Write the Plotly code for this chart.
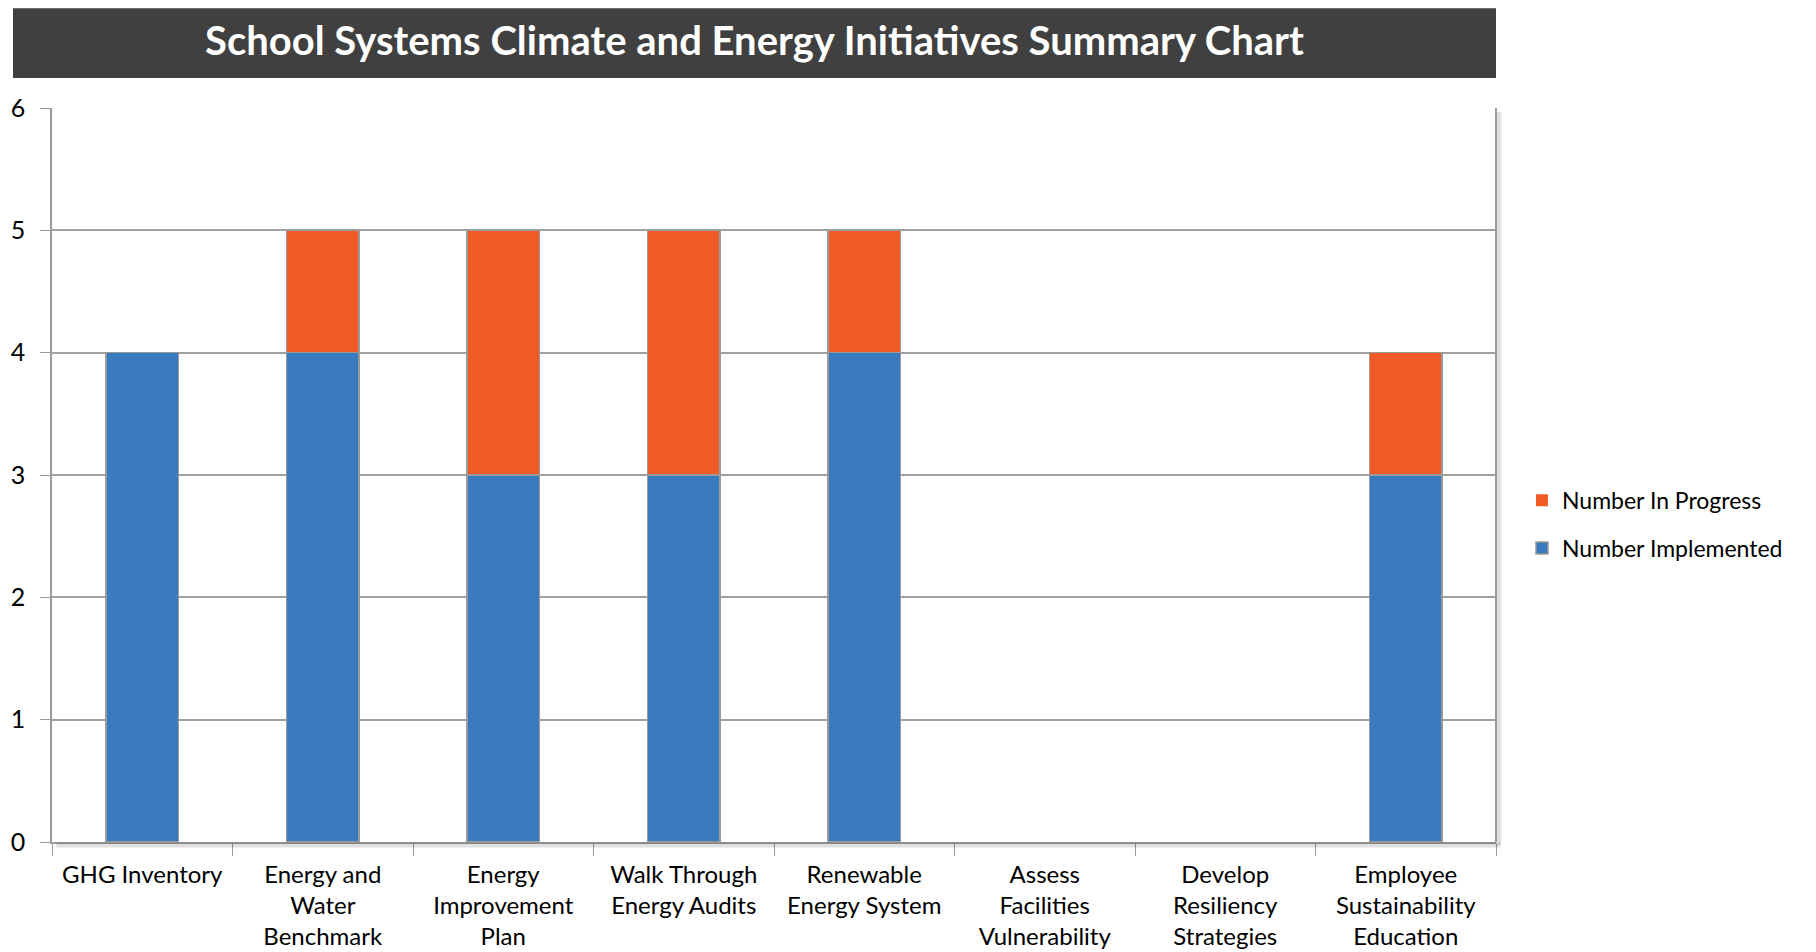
import plotly.graph_objects as go

categories = ["GHG Inventory", "Energy and<br>Water<br>Benchmark", "Energy<br>Improvement<br>Plan",
              "Walk Through<br>Energy Audits", "Renewable<br>Energy System", "Assess<br>Facilities<br>Vulnerability",
              "Develop<br>Resiliency<br>Strategies", "Employee<br>Sustainability<br>Education"]
implemented = [4, 4, 3, 3, 4, 0, 0, 3]
in_progress = [0, 1, 2, 2, 1, 0, 0, 1]
title_text = "School Systems Climate and Energy Initiatives Summary Chart"

FONT = "Lato"
EDGE = "#9a9a9a"
fig = go.Figure()
fig.add_trace(go.Bar(x=categories, y=implemented, name="Number Implemented", legendgroup="a", legendrank=2,
                     marker=dict(color="#3A7ABF",
                                 line=dict(color=EDGE, width=[1.5 if v else 0 for v in implemented]))))
fig.add_trace(go.Bar(x=categories, y=in_progress, name="Number In Progress", legendgroup="b", legendrank=1,
                     marker=dict(color="#F15B26",
                                 line=dict(color=EDGE, width=[1.5 if v else 0 for v in in_progress]))))

fig.update_layout(
    width=1816, height=952, barmode="stack", bargap=0.6,
    paper_bgcolor="white", plot_bgcolor="white",
    margin=dict(l=44, r=328, t=100, b=118),
    font=dict(family=FONT, size=24, color="#000000"),
    legend=dict(x=1.018, y=0.433, yanchor="middle", xanchor="left", font=dict(size=23),
                itemwidth=30, tracegroupgap=15, traceorder="grouped"),
    showlegend=True,
)
fig.update_xaxes(showline=True, linecolor=EDGE, linewidth=2, ticks="outside", tickson="boundaries",
                 ticklen=12, tickcolor=EDGE, tickfont=dict(size=24), showgrid=False,
                 ticklabelstandoff=10, automargin=False)
fig.update_yaxes(range=[0, 6], dtick=1, showline=True, linecolor=EDGE, linewidth=1.5,
                 ticks="outside", ticklen=10, tickcolor=EDGE, showgrid=True, gridcolor="#a0a0a0",
                 gridwidth=1.5, tickfont=dict(size=25), zeroline=False, ticklabelstandoff=10,
                 automargin=False)
# soft shadow along right and bottom of plot area
fig.add_shape(type="line", xref="paper", yref="paper", x0=1.002, x1=1.002, y0=-0.004, y1=0.995,
              line=dict(color="rgba(0,0,0,0.12)", width=5))
fig.add_shape(type="line", xref="paper", yref="paper", x0=0.003, x1=1.003, y0=-0.004, y1=-0.004,
              line=dict(color="rgba(0,0,0,0.12)", width=5))
# right-edge border line
fig.add_shape(type="line", xref="paper", yref="paper", x0=1, x1=1, y0=0, y1=1,
              line=dict(color=EDGE, width=2))
# title bar
fig.add_shape(type="rect", xref="paper", yref="paper", x0=-0.027, x1=1.0, y0=1.0409, y1=1.136,
              fillcolor="#404040", line=dict(width=0), layer="below")
fig.add_annotation(text="<b>" + title_text + "</b>", xref="paper", yref="paper", x=0.4865, y=1.092,
                   showarrow=False, font=dict(family=FONT, size=40, color="white"), yanchor="middle")
fig.write_html("out.html")
